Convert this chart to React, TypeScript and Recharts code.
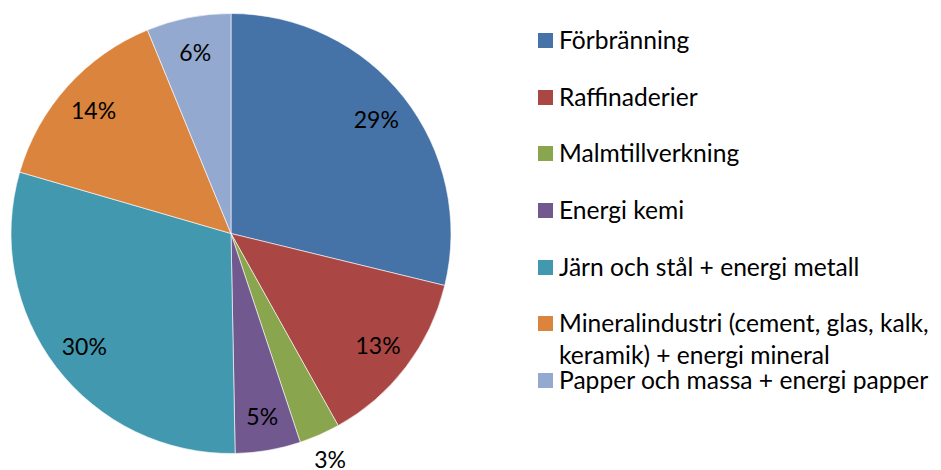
import React from "react";
import { PieChart, Pie, Cell, Legend } from "recharts";

const categories = [
  "Förbränning",
  "Raffinaderier",
  "Malmtillverkning",
  "Energi kemi",
  "Järn och stål + energi metall",
  "Mineralindustri (cement, glas, kalk, keramik) + energi mineral",
  "Papper och massa + energi papper",
];
const shares = [28.8, 13.1, 3.0, 4.8, 29.8, 14.3, 6.2];
const colors = ["#4572A7", "#AA4643", "#89A54E", "#71588F", "#4198AF", "#DB843D", "#93A9CF"];

const data = categories.map((name, i) => ({ name, value: shares[i] }));

const FONT = "Lato, 'DejaVu Sans', sans-serif";
const RAD = Math.PI / 180;

const renderLabel = (props: any) => {
  const { cx, cy, midAngle, outerRadius, percent } = props;
  const outside = percent < 0.04;
  const r = outside ? outerRadius + 26 : outerRadius * 0.84;
  const x = cx + r * Math.cos(-midAngle * RAD);
  const y = cy + r * Math.sin(-midAngle * RAD);
  return (
    <text
      x={x}
      y={y}
      fill="#000"
      textAnchor="middle"
      dominantBaseline="central"
      fontFamily={FONT}
      fontSize={23}
    >
      {Math.round(percent * 100) + "%"}
    </text>
  );
};

const renderLegend = () => (
  <div style={{ position: "relative", width: 410, height: 470 }}>
    {data.map((d, i) => (
      <div
        key={d.name}
        style={{
          position: "absolute",
          left: 0,
          top: 40 + i * 56.67 - 16,
          width: 403,
          fontFamily: FONT,
          fontSize: 24.6,
          lineHeight: "32px",
          color: "#000",
          display: "flex",
          alignItems: "flex-start",
        }}
      >
        <span
          style={{
            display: "inline-block",
            width: 15,
            height: 15,
            background: colors[i],
            marginTop: 9,
            marginRight: 6,
            flex: "0 0 auto",
          }}
        />
        <span style={{ whiteSpace: "normal" }}>{d.name}</span>
      </div>
    ))}
  </div>
);

export default function App() {
  return (
    <div style={{ position: "absolute", left: 0, top: 0, width: 941, height: 470, background: "#fff" }}>
      <PieChart width={941} height={470} margin={{ top: 0, right: 0, bottom: 0, left: 0 }}>
        <Pie
          data={data}
          dataKey="value"
          nameKey="name"
          cx={231}
          cy={233.5}
          outerRadius={220}
          startAngle={90}
          endAngle={-270}
          stroke="#ffffff"
          strokeWidth={0.6}
          label={renderLabel}
          labelLine={false}
          isAnimationActive={false}
        >
          {data.map((d, i) => (
            <Cell key={d.name} fill={colors[i]} />
          ))}
        </Pie>
        <Legend
          content={renderLegend}
          layout="vertical"
          wrapperStyle={{ position: "absolute", left: 538, top: 0, width: 410, height: 470 }}
        />
      </PieChart>
    </div>
  );
}
